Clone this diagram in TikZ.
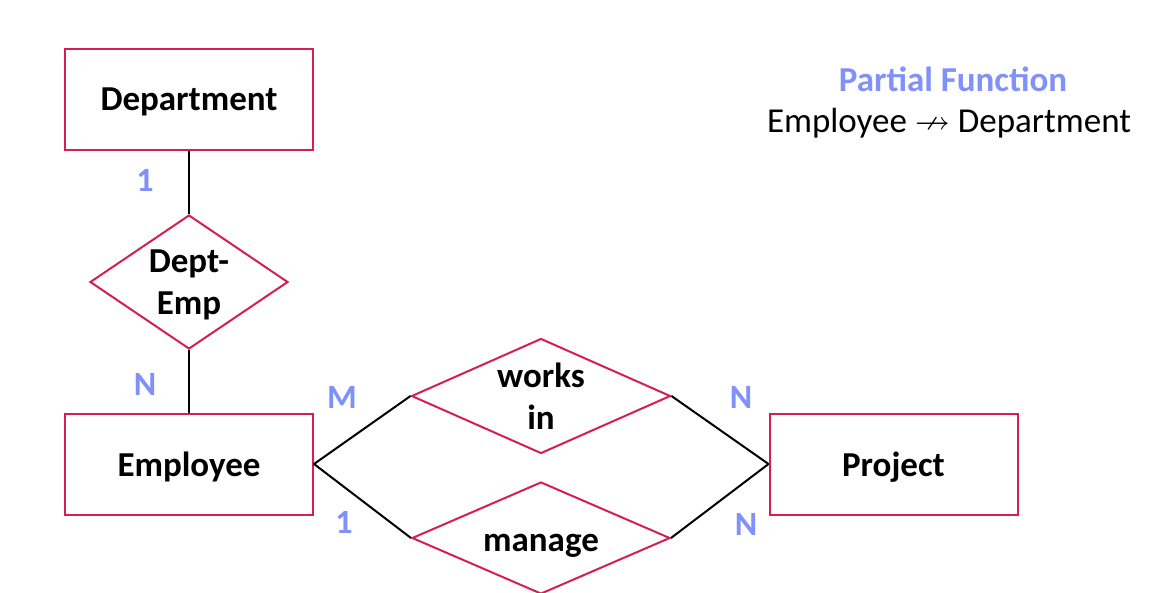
\documentclass[tikz,border=0pt]{standalone}
\usepackage{amssymb}
\usepackage{fontspec}
\setmainfont{Carlito}
\usetikzlibrary{shapes.geometric}
\definecolor{erred}{RGB}{214,31,80}
\definecolor{erblue}{RGB}{128,145,250}
\tikzset{
  ent/.style={draw=erred, line width=2pt, rectangle, minimum width=248pt, minimum height=101pt, inner sep=0pt, text depth=0pt, font=\fontsize{35}{41}\selectfont\bfseries},
  rel/.style={draw=erred, line width=2pt, diamond, inner sep=0pt},
  reltext/.style={align=center, inner sep=0pt, font=\fontsize{35}{42}\selectfont\bfseries},
  card/.style={text=erblue, font=\fontsize{34}{40}\selectfont\bfseries},
  conn/.style={draw=black, line width=2pt}
}
\begin{document}
\begin{tikzpicture}[x=1pt,y=-1pt]
\useasboundingbox (0,0) rectangle (1174,592);
\clip (0,0) rectangle (1174,592);
\fill[white] (0,0) rectangle (1174,592);

\node[ent] (dept) at (189,99) {Department};
\node[ent] (emp) at (189,464) {Employee};
\node[ent] (proj) at (893.5,464) {Project};

\node[rel, minimum width=198pt, minimum height=134pt] (de) at (189,282) {};
\node[reltext] (detext) at (189,285) {Dept-\\Emp};

\node[rel, minimum width=259pt, minimum height=115pt] (works) at (541,396) {};
\node[reltext] (workstext) at (541,396) {works\\in};

\node[rel, minimum width=258pt, minimum height=112pt] (manage) at (541,538) {};
\node[reltext] (managetext) at (541,546) {manage};

\draw[conn] (dept.south) -- (de.north);
\draw[conn] (de.south) -- (emp.north);
\draw[conn] (emp.east) -- (works.west);
\draw[conn] (emp.east) -- (manage.west);
\draw[conn] (proj.west) -- (works.east);
\draw[conn] (proj.west) -- (manage.east);

\node[card] (c1) at (145,180) {1};
\node[card] (c2) at (145,384) {N};
\node[card] (c3) at (342,397) {M};
\node[card] (c4) at (344,522) {1};
\node[card] (c5) at (741,397) {N};
\node[card] (c6) at (746,524) {N};

\node[text=erblue, inner sep=0pt, font=\fontsize{35}{41}\selectfont\bfseries] (pf) at (953,79) {Partial Function};
\node[inner sep=0pt, font=\fontsize{35}{41}\selectfont] (fn) at (949,123) {Employee $\nrightarrow$ Department};
\end{tikzpicture}
\end{document}
